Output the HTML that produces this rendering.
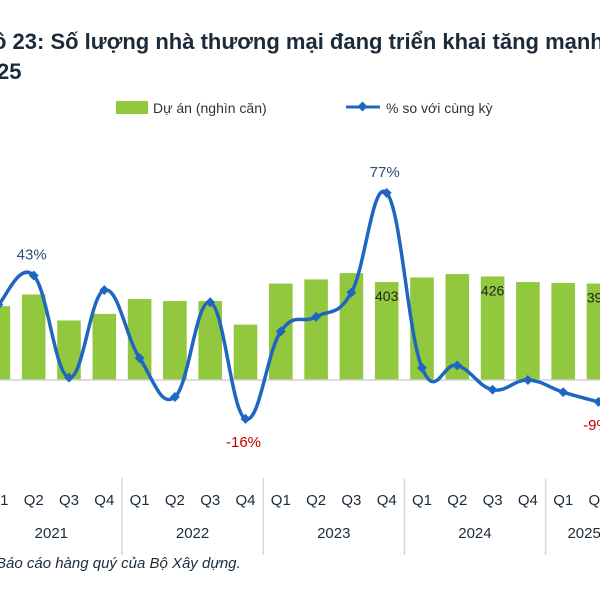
<!DOCTYPE html>
<html><head><meta charset="utf-8"><style>
body{margin:0;background:#fff;}
svg{display:block;font-family:"Liberation Sans",sans-serif;}
</style></head><body>
<svg id="c" width="600" height="600" viewBox="0 0 600 600">
<text x="-7" y="49" font-size="22" font-weight="bold" fill="#1c2b3a">ồ 23: Số lượng nhà thương mại đang triển khai tăng mạnh</text>
<text x="-3" y="79" font-size="22" font-weight="bold" fill="#1c2b3a">25</text>
<g>
<rect x="116" y="101" width="32" height="13" fill="#92c83e"/>
<text x="153" y="113" font-size="14" fill="#333">Dự án (nghìn căn)</text>
<line x1="346" y1="107" x2="380" y2="107" stroke="#1f66c1" stroke-width="3"/>
<rect x="359" y="103" width="7" height="7" fill="#1f66c1" transform="rotate(45 362.5 106.5)"/>
<text x="386" y="113" font-size="14" fill="#333">% so với cùng kỳ</text>
</g>
<g id="bars"></g>
<line x1="0" y1="380" x2="600" y2="380" stroke="#d0d0d0" stroke-width="1.5"/>
<g id="line"></g>
<g id="labels"></g>
<g id="axis"></g>
<text x="-4" y="568" font-size="15" font-style="italic" fill="#1c2b3a">Báo cáo hàng quý của Bộ Xây dựng.</text>
</svg>
<script>
const quarters=["Q1","Q2","Q3","Q4","Q1","Q2","Q3","Q4","Q1","Q2","Q3","Q4","Q1","Q2","Q3","Q4","Q1","Q2"];
const years=["2021","2022","2023","2024","2025"];
const projects=[304,352,245,272,333,325,325,228,397,414,440,403,422,436,426,403,399,397];
const growth=[31,43,1,37,9,-7,32,-16,20,26,36,77,5,6,-4,0,-5,-9];
const barLabels={11:"403",14:"426",17:"397"};
const pctLabels={1:"43%",11:"77%",7:"-16%",17:"-9%"};
const NS="http://www.w3.org/2000/svg";
const x=i=>-1.6+35.3*i;
const yBar=v=>380-v*0.243;
const yPct=v=>380-v*2.43;
function mk(t,a,p){const e=document.createElementNS(NS,t);for(const k in a)e.setAttribute(k,a[k]);p.appendChild(e);return e;}
const gb=document.getElementById('bars');
projects.forEach((v,i)=>{
 const r=mk('rect',{x:x(i)-11.8,y:yBar(v),width:23.6,height:380-yBar(v),fill:'#92c83e'},gb);
 
 
});
const pts=growth.map((v,i)=>[x(i),yPct(v)]);
let d='M'+pts[0][0]+','+pts[0][1];
for(let i=0;i<pts.length-1;i++){
 const p0=pts[Math.max(0,i-1)],p1=pts[i],p2=pts[i+1],p3=pts[Math.min(pts.length-1,i+2)];
 const t=0.2;
 d+=` C${p1[0]+(p2[0]-p0[0])*t},${p1[1]+(p2[1]-p0[1])*t} ${p2[0]-(p3[0]-p1[0])*t},${p2[1]-(p3[1]-p1[1])*t} ${p2[0]},${p2[1]}`;
}
const gl=document.getElementById('line');
const path=mk('path',{d:d,fill:'none',stroke:'#1f66c1','stroke-width':3.5},gl);


pts.forEach((p,i)=>{
 const m=mk('rect',{x:p[0]-3.5,y:p[1]-3.5,width:7,height:7,fill:'#1f66c1',transform:`rotate(45 ${p[0]} ${p[1]})`},gl);
 
 
});
const gt=document.getElementById('labels');
for(const i in barLabels){
 const t=mk('text',{x:x(+i),y:yBar(projects[i])+19,'font-size':14,fill:'#222','text-anchor':'middle'},gt);
 t.textContent=barLabels[i];
 
 
}
for(const i in pctLabels){
 const v=growth[i];
 const neg=v<0;
 const t=mk('text',{x:x(+i)-2,y:neg?yPct(v)+28:yPct(v)-16,'font-size':15,fill:neg?'#c00000':'#2e4a7a','text-anchor':'middle'},gt);
 t.textContent=pctLabels[i];
 
 
}
const ga=document.getElementById('axis');
quarters.forEach((q,i)=>{
 const t=mk('text',{x:x(i),y:505,'font-size':15,fill:'#1c2b3a','text-anchor':'middle'},ga);
 t.textContent=q;
 
 
});
years.forEach((yv,k)=>{
 const cx=(x(4*k)+x(4*k+3))/2 - (k===4?32:0);
 const t=mk('text',{x:cx,y:538,'font-size':15,fill:'#1c2b3a','text-anchor':'middle'},ga);
 t.textContent=yv;
 
 
 if(k>0){
  const sx=x(4*k)-17.6;
  const l=mk('line',{x1:sx,y1:478,x2:sx,y2:555,stroke:'#d8d8d8','stroke-width':1.5},ga);
  
  
 }
});
</script>
</body></html>
